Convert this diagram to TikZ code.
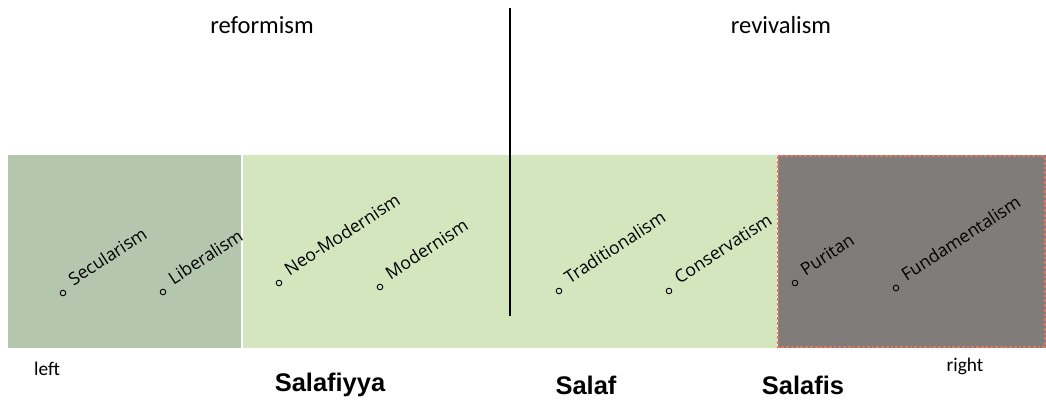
\documentclass[tikz,border=0pt]{standalone}
\usepackage{fontspec}
\setmainfont{Carlito}
\newfontfamily\itemfont{Open Sans}
\newfontfamily\namefont{Liberation Sans}
\usetikzlibrary{positioning}

\definecolor{leftgreen}{RGB}{181,198,174}
\definecolor{paleg}{RGB}{211,230,190}
\definecolor{rightgray}{RGB}{128,124,122}
\definecolor{dotred}{RGB}{226,118,98}

\begin{document}
\begin{tikzpicture}[x=0.02cm, y=-0.02cm]
            % Define styles
            \tikzstyle{zone} = [draw=none]
            \tikzstyle{bullet} = [circle, draw, line width=0.5pt, inner sep=0pt, minimum size=3.2pt]
            \tikzstyle{item} = [font=\itemfont\fontsize{10}{12}\selectfont, rotate=33, anchor=base west, inner xsep=7pt, inner ysep=0pt]
            \tikzstyle{trend} = [font=\fontsize{14}{16}\selectfont]
            \tikzstyle{side} = [font=\fontsize{11}{13}\selectfont]
            \tikzstyle{group} = [font=\namefont\bfseries\fontsize{14.5}{17}\selectfont]
            \tikzstyle{line} = [draw, line width=1.2pt]

            \useasboundingbox (0,0) rectangle (1046,400);

            % Spectrum zones
            \fill[leftgreen] (8,155) rectangle (241,348);
            \fill[paleg] (243,155) rectangle (777,348);
            \fill[rightgray] (778,155) rectangle (1046,348);
            \draw[dotred, line width=1.1pt, dash pattern=on 1.6pt off 1.1pt]
                (778,156) rectangle (1045,347);

            % Divider
            \coordinate (divtop) at (510,8);
            \coordinate (divbot) at (510,316);
            \draw[line] (divtop) -- (divbot);

            % Headings
            \node[trend] (reform) at (262,25) {reformism};
            \node[trend] (reviv) at (781,25) {revivalism};

            % Positions on the spectrum
            \foreach \x/\y/\lbl [count=\i] in {63/293/Secularism, 163/292/Liberalism,
                    279/283/Neo-Modernism, 380/287/Modernism, 559/291/Traditionalism,
                    669/291/Conservatism, 795/283/Puritan, 896/288/Fundamentalism} {
                \node[bullet] (b\i) at (\x,\y) {};
                \node[item] (t\i) at (b\i) {\lbl};
            }

            % Bottom labels
            \node[side] (leftend) at (47,369) {left};
            \node[side] (rightend) at (965,366) {right};
            \node[group] (salafiyya) at (330,385) {Salafiyya};
            \node[group] (salaf) at (586,385) {Salaf};
            \node[group] (salafis) at (803,385) {Salafis};
\end{tikzpicture}
\end{document}
